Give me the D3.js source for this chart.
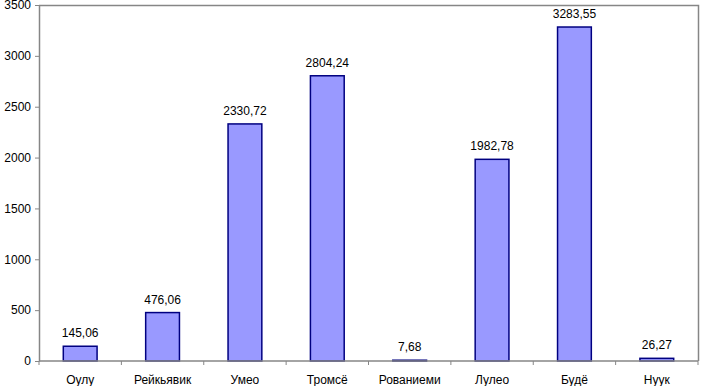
<!DOCTYPE html>
<html>
<head>
<meta charset="utf-8">
<script src="https://cdn.jsdelivr.net/npm/d3@7"></script>
<style>
  body { margin: 0; background: #fff; }
  text { font-family: "Liberation Sans", Arial, sans-serif; }
</style>
</head>
<body>
<svg id="chart" width="704" height="386"></svg>
<script>
const cities = ['Оулу', 'Рейкьявик', 'Умео', 'Тромсё', 'Рованиеми', 'Лулео', 'Будё', 'Нуук'];
const values = [145.06, 476.06, 2330.72, 2804.24, 7.68, 1982.78, 3283.55, 26.27];
const y_ticks = [0, 500, 1000, 1500, 2000, 2500, 3000, 3500];

const width = 704, height = 386;
const margin = {top: 5, right: 6, bottom: 25, left: 39};
const axis_color = '#868686';
const bar_fill = '#9999ff';
const bar_stroke = '#000080';
const font_size = 12;

const svg = d3.select('#chart');

const x = d3.scaleBand()
  .domain(cities)
  .range([margin.left, width - margin.right])
  .paddingInner(0.59)
  .paddingOuter(0.295);

const y = d3.scaleLinear()
  .domain([0, 3500])
  .range([height - margin.bottom, margin.top]);

// plot frame (top + right)
svg.append('path')
  .attr('d', `M${margin.left},${margin.top + 0.5}H${width - margin.right + 0.5}V${height - margin.bottom}`)
  .attr('fill', 'none')
  .attr('stroke', axis_color)
  .attr('stroke-width', 1.5);

// bars
svg.selectAll('rect.bar')
  .data(values)
  .enter()
  .append('rect')
  .attr('class', 'bar')
  .attr('x', (d, i) => x(cities[i]))
  .attr('y', d => y(d))
  .attr('width', x.bandwidth())
  .attr('height', d => y(0) - y(d))
  .attr('fill', bar_fill)
  .attr('stroke', bar_stroke)
  .attr('stroke-width', 1.5);

// value labels
svg.selectAll('text.val')
  .data(values)
  .enter()
  .append('text')
  .attr('class', 'val')
  .attr('x', (d, i) => x(cities[i]) + x.bandwidth() / 2)
  .attr('y', d => y(d) - 9)
  .attr('text-anchor', 'middle')
  .attr('font-size', font_size)
  .attr('fill', '#000')
  .text(d => d.toFixed(2).replace('.', ','));

// y axis
const yAxis = svg.append('g')
  .attr('transform', `translate(${margin.left},0)`)
  .call(d3.axisLeft(y).tickValues(y_ticks).tickFormat(d3.format('d'))
    .tickSize(4).tickSizeOuter(0).tickPadding(4));
yAxis.select('.domain').attr('stroke', axis_color).attr('stroke-width', 1.5);
yAxis.selectAll('.tick line').attr('stroke', axis_color);
yAxis.selectAll('.tick text')
  .attr('font-size', font_size)
  .attr('fill', '#000')
  .attr('font-family', '"Liberation Sans", Arial, sans-serif');

// x axis: ticks between categories
const boundaries = d3.range(cities.length + 1).map(i => margin.left + i * (width - margin.left - margin.right) / cities.length);
const xg = svg.append('g');
xg.append('line')
  .attr('x1', margin.left).attr('x2', width - margin.right)
  .attr('y1', y(0)).attr('y2', y(0))
  .attr('stroke', axis_color).attr('stroke-width', 1.5);
xg.selectAll('line.tk')
  .data(boundaries)
  .enter()
  .append('line')
  .attr('class', 'tk')
  .attr('x1', d => d).attr('x2', d => d)
  .attr('y1', y(0)).attr('y2', y(0) + 4)
  .attr('stroke', axis_color);
xg.selectAll('text')
  .data(cities)
  .enter()
  .append('text')
  .attr('x', d => x(d) + x.bandwidth() / 2)
  .attr('y', height - 2)
  .attr('text-anchor', 'middle')
  .attr('font-size', font_size)
  .attr('fill', '#000')
  .text(d => d);
</script>
</body>
</html>
